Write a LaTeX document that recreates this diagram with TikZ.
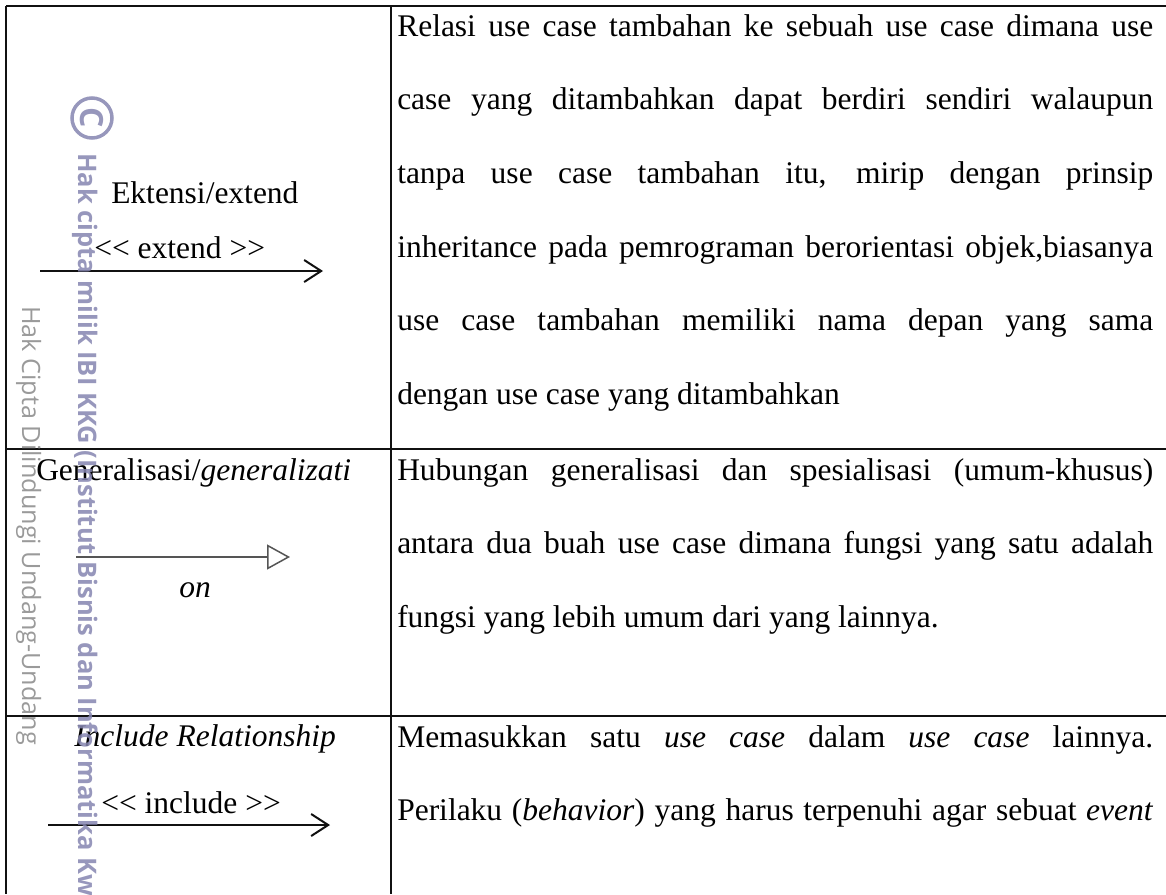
\documentclass[tikz,border=0pt]{standalone}
\usepackage{fontspec}
\setmainfont{Liberation Serif}
\newfontfamily\wmfont{Open Sans}
\usetikzlibrary{arrows.meta, positioning}
\definecolor{cline}{HTML}{111111}
\definecolor{cgrey}{HTML}{555555}
\definecolor{cwmblue}{HTML}{8585B0}
\definecolor{cwmgrey}{HTML}{9A9A9A}
\newcommand{\cellfont}{\fontsize{31.5}{36}\selectfont}
\tikzset{
  every picture/.style={line width=2.5pt},
  txt/.style={anchor=base west, inner sep=0pt, font=\cellfont},
  umlarrow/.style={-{Straight Barb[length=17pt, width=22pt, line width=2pt]}, draw=cline, line width=2pt},
  genarrow/.style={-{Triangle[open, length=23pt, width=25pt, line width=1.5pt, fill=white]}, draw=cgrey, line width=2pt},
  wmark/.style={rotate=-90, anchor=base west, inner sep=0pt},
}

\begin{document}
\begin{tikzpicture}[x=1pt, y=-1pt]
  \useasboundingbox (0,0) rectangle (1166,894);
  % table rules
  \draw[cline] (6,6) -- (1166,6);
  \draw[cline] (6,449) -- (1166,449);
  \draw[cline] (6,716) -- (1166,716);
  \draw[cline] (6,6) -- (6,894);
  \draw[cline] (391,6) -- (391,894);

  % row 1: extend
  \node[txt] (ektensi) at (110,203) {Ektensi/extend};
  \node[txt] (extlbl) at (93,258) {<{}< extend >{}>};
  \coordinate (extS) at (40,271);
  \coordinate (extE) at (323,271);
  \draw[umlarrow] (extS) -- (extE);
  \foreach \t [count=\i] in {Relasi use case tambahan ke sebuah use case dimana use,
      case yang ditambahkan dapat berdiri sendiri walaupun,
      {tanpa use case tambahan itu, mirip dengan prinsip},
      {inheritance pada pemrograman berorientasi objek,biasanya},
      use case tambahan memiliki nama depan yang sama}
    \node[txt] (ext\i) at (396,{36+73.7*(\i-1)}) {\makebox[756pt][s]{\t}};
  \node[txt] (ext6) at (396,404.5) {dengan use case yang ditambahkan};

  % row 2: generalization
  \node[txt] (general) at (35,480) {Generalisasi/\textit{generalizati}};
  \node[anchor=base, inner sep=0pt, font=\cellfont\itshape] (genon) at (195,597) {on};
  \coordinate (genS) at (76,557);
  \coordinate (genE) at (290,557);
  \draw[genarrow] (genS) -- (genE);
  \node[txt] (gen1) at (396,480) {\makebox[756pt][s]{Hubungan generalisasi dan spesialisasi (umum-khusus)}};
  \node[txt] (gen2) at (396,553.5) {\makebox[756pt][s]{antara dua buah use case dimana fungsi yang satu adalah}};
  \node[txt] (gen3) at (396,627) {fungsi yang lebih umum dari yang lainnya.};

  % row 3: include
  \node[txt] (include) at (73,746) {\textit{Include Relationship}};
  \node[txt] (inclbl) at (100,813) {<{}< include >{}>};
  \coordinate (incS) at (48,825);
  \coordinate (incE) at (330,825);
  \draw[umlarrow] (incS) -- (incE);
  \node[txt] (inc1) at (396,747) {\makebox[756pt][s]{Memasukkan satu \textit{use case} dalam \textit{use case} lainnya.}};
  \node[txt] (inc2) at (396,820) {\makebox[756pt][s]{Perilaku (\textit{behavior}) yang harus terpenuhi agar sebuat \textit{event}}};

  % watermarks
  \node[wmark, text=cwmgrey, font=\wmfont\fontsize{25.2}{25.2}\selectfont] (wmgrey) at (22,305) {Hak Cipta Dilindungi Undang-Undang};
  \node[circle, draw=cwmblue, line width=3.5pt, minimum size=40pt, inner sep=0pt, rotate=-90,
    text=cwmblue, font=\wmfont\bfseries\fontsize{32}{32}\selectfont, opacity=0.85] (wmcopy) at (92,118) {C};
  \node[wmark, text=cwmblue, opacity=0.85, font=\wmfont\bfseries\fontsize{25.5}{25.5}\selectfont] (wmblue) at (78,152)
    {Hak cipta milik IBI KKG (Institut Bisnis dan Informatika Kwik Kian Gie)};
\end{tikzpicture}
\end{document}
